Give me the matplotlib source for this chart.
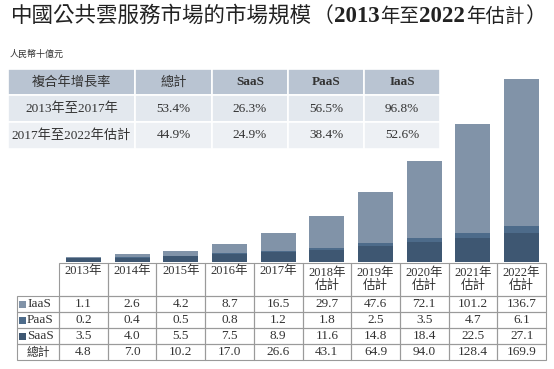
import matplotlib
matplotlib.use("Agg")
import matplotlib.pyplot as plt
import matplotlib.transforms as mtransforms
from matplotlib.patches import Rectangle

# 人民幣十億元
years = ["2013年", "2014年", "2015年", "2016年", "2017年",
         "2018年", "2019年", "2020年", "2021年", "2022年"]
estimated = [False, False, False, False, False, True, True, True, True, True]
iaas = [1.1, 2.6, 4.2, 8.7, 16.5, 29.7, 47.6, 72.1, 101.2, 136.7]
paas = [0.2, 0.4, 0.5, 0.8, 1.2, 1.8, 2.5, 3.5, 4.7, 6.1]
saas = [3.5, 4.0, 5.5, 7.5, 8.9, 11.6, 14.8, 18.4, 22.5, 27.1]
total = [4.8, 7.0, 10.2, 17.0, 26.6, 43.1, 64.9, 94.0, 128.4, 169.9]

cagr_header = ["複合年增長率", "總計", "SaaS", "PaaS", "IaaS"]
cagr_periods = ["2013年至2017年", "2017年至2022年估計"]
cagr_values = [["53.4%", "26.3%", "56.5%", "96.8%"],
               ["44.9%", "24.9%", "38.4%", "52.6%"]]

c_iaas = "#8193a8"
c_paas = "#4d6b8a"
c_saas = "#3e5772"
txt = "#333333"
SERIF = ["Liberation Serif", "Noto Sans CJK TC"]
SANS = ["Noto Sans CJK TC"]

W, H = 554, 369
fig = plt.figure(figsize=(W / 100, H / 100), dpi=100)

# bars
ax = fig.add_axes([59 / W, (H - 262) / H, (546 - 59) / W, (262 - 69) / H])
x = range(len(years))
ax.bar(x, saas, width=0.72, color=c_saas)
bot = [s for s in saas]
ax.bar(x, paas, width=0.72, bottom=bot, color=c_paas)
bot = [s + p for s, p in zip(saas, paas)]
ax.bar(x, iaas, width=0.72, bottom=bot, color=c_iaas)
ax.set_xlim(-0.5, len(years) - 0.5)
ax.set_ylim(0, 179.2)
ax.axis("off")

# overlay in pixel coordinates for title and tables
ov = fig.add_axes([0, 0, 1, 1])
ov.set_xlim(0, W)
ov.set_ylim(H, 0)
ov.axis("off")

# title: sans CJK with bold serif digits, placed piece by piece
pieces = [("中國公共雲服務市場的市場規模", SANS, "normal", 15.5),
          ("（", SANS, "normal", 15),
          ("2013", SERIF, "bold", 16.5),
          ("年至", SANS, "normal", 14),
          ("2022", SERIF, "bold", 16.5),
          ("年估計", SANS, "normal", 14),
          ("）", SANS, "normal", 15)]
renderer = fig.canvas.get_renderer()
tr = mtransforms.blended_transform_factory(mtransforms.IdentityTransform(), ov.transData)
xpos = 11
for s, fam, wt, fs in pieces:
    t = ov.text(xpos, 16, s, fontsize=fs, family=fam, weight=wt, color="#222222",
                va="center", ha="left", transform=tr)
    xpos = t.get_window_extent(renderer).x1 + 0.5

ov.text(10, 54, "人民幣十億元", fontsize=6.5, family=SERIF, color=txt, va="center")

# CAGR table
xe = [8, 135, 212, 288, 364, 440]
ye = [69, 95, 122, 149]
bgs = ["#b9c4d2", "#e3e8ee", "#edf0f4"]
for r in range(3):
    for c in range(5):
        ov.add_patch(Rectangle((xe[c], ye[r]), xe[c + 1] - xe[c], ye[r + 1] - ye[r],
                               facecolor=bgs[r], edgecolor="white", lw=1.2))
for c, h in enumerate(cagr_header):
    cx = (xe[c] + xe[c + 1]) / 2
    if c < 2:
        ov.text(cx, 82, h, fontsize=9.5, family=SANS, color=txt, ha="center", va="center")
    else:
        ov.text(cx, 82, h, fontsize=9.5, family=SERIF, weight="bold", color=txt,
                ha="center", va="center")
for r in range(2):
    cy = (ye[r + 1] + ye[r + 2]) / 2
    ov.text((xe[0] + xe[1]) / 2, cy, cagr_periods[r], fontsize=9.5, family=SERIF,
            color=txt, ha="center", va="center")
    for c in range(4):
        ov.text((xe[c + 1] + xe[c + 2]) / 2, cy, cagr_values[r][c], fontsize=9.5,
                family=SERIF, color=txt, ha="center", va="center")

# data table under bars
colw = (546 - 59) / len(years)
ry = [263, 296, 312, 328, 344, 360]
lc = "#9a9a9a"
for i, yr in enumerate(years):
    x0 = 59 + i * colw
    ov.add_patch(Rectangle((x0, ry[0]), colw, ry[1] - ry[0], fill=False, edgecolor=lc, lw=0.8))
    label = yr + "\n估計" if estimated[i] else yr
    va_y = 279 if estimated[i] else 271
    ov.text(x0 + colw / 2, va_y, label, fontsize=9, family=SERIF, color=txt,
            ha="center", va="center", linespacing=1.05)
rows = [("IaaS", iaas, c_iaas), ("PaaS", paas, c_paas), ("SaaS", saas, c_saas),
        ("總計", total, None)]
for r, (name, vals, col) in enumerate(rows):
    y0, y1 = ry[r + 1], ry[r + 2]
    cy = (y0 + y1) / 2
    ov.add_patch(Rectangle((17, y0), 59 - 17, y1 - y0, fill=False, edgecolor=lc, lw=0.8))
    if col is not None:
        ov.add_patch(Rectangle((19, cy - 3.5), 7, 7, facecolor=col, edgecolor="none"))
        ov.text(27, cy, name, fontsize=9.5, family=SERIF, color=txt, ha="left", va="center")
    else:
        ov.text(38, cy, name, fontsize=8.5, family=SANS, color=txt, ha="center", va="center")
    for i, v in enumerate(vals):
        x0 = 59 + i * colw
        ov.add_patch(Rectangle((x0, y0), colw, y1 - y0, fill=False, edgecolor=lc, lw=0.8))
        ov.text(x0 + colw / 2, cy, f"{v:.1f}", fontsize=9.5, family=SERIF, color=txt,
                ha="center", va="center")

fig.savefig("out.png", dpi=100)
